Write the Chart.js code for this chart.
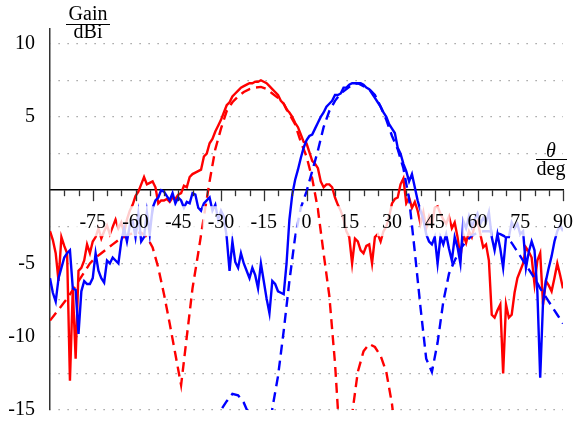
<!DOCTYPE html>
<html>
<head>
<meta charset="utf-8">
<script src="https://cdn.jsdelivr.net/npm/chart.js@4.4.1/dist/chart.umd.min.js"></script>
<style>
	html, body { margin: 0; padding: 0; background: #ffffff; }
	canvas { display: block; }
</style>
</head>
<body>
<canvas id="gain" width="574" height="425"></canvas>
<script>
// Measured angles (1 deg step) and simulated angles (2 deg step).
var measuredAngles = [];
for ( var a = -90; a <= 90; a++ ) {
	measuredAngles.push( a );
}
var simAngles = [];
for ( var b = -90; b <= 90; b += 2 ) {
	simAngles.push( b );
}

// Port 1 (beam towards -15 deg), measured.
var redMeasured = [
	-2.8, -3.4, -4.3, -6.2, -3.2, -3.8, -4.3, -13.0, -6.7, -11.5,
	-5.5, -5.3, -4.8, -3.7, -4.3, -3.5, -3.2, -2.6, -3.3, -2.8,
	-2.4, -3.0, -2.5, -2.0, -2.6, -2.2, -2.9, -2.0, -1.4, -1.0,
	-0.4, -0.1, 0.4, 0.9, 0.4, 0.5, 0.6, 0.2, -0.9, -0.7,
	-0.7, -0.6, -0.8, -0.5, -0.6, -0.3, -0.2, 0.3, 0.2, 0.9,
	1.1, 1.2, 1.3, 1.4, 2.3, 2.5, 3.2, 3.5, 4.0, 4.4,
	4.8, 5.3, 5.8, 6.0, 6.4, 6.6, 6.8, 7.0, 7.1, 7.2,
	7.3, 7.3, 7.4, 7.4, 7.5, 7.4, 7.3, 7.1, 6.9, 6.7,
	6.5, 6.1, 5.9, 5.5, 5.3, 5.0, 4.6, 4.3, 3.8, 3.3,
	3.2, 2.6, 2.0, 1.8, 1.5, 0.6, 0.2, 0.4, 0.4, 0.2,
	-0.5, -1.0, -1.4, -2.0, -2.8, -3.2, -5.0, -3.3, -3.5, -4.1,
	-4.3, -3.8, -3.7, -5.0, -3.2, -3.0, -3.5, -2.8, -2.5, -1.8,
	-0.9, -0.6, -0.5, 0.4, 0.8, -0.9, -0.5, -1.2, -0.8, -1.4,
	-2.3, -1.5, -2.6, -1.8, -2.4, -1.2, -1.1, -1.6, -2.0, -2.3,
	-1.8, -2.6, -2.2, -3.2, -4.6, -3.0, -3.6, -2.8, -3.2, -2.4,
	-2.1, -3.0, -3.9, -3.7, -4.8, -8.5, -8.7, -8.2, -7.8, -12.5,
	-7.8, -8.7, -8.5, -7.0, -6.0, -5.5, -5.0, -3.9, -4.2, -4.6,
	-6.4, -4.8, -4.3, -7.8, -6.2, -6.5, -6.9, -6.0, -5.0, -5.8,
	-6.7
];

// Port 2 (beam towards +17 deg), measured.
var blueMeasured = [
	-6.0, -7.0, -7.6, -6.0, -5.3, -4.6, -4.3, -4.1, -6.7, -6.8,
	-9.8, -6.9, -6.2, -6.4, -6.4, -6.0, -4.3, -5.5, -6.0, -6.3,
	-4.8, -5.0, -4.6, -4.8, -5.0, -3.5, -2.6, -3.5, -2.4, -2.1,
	-3.2, -1.6, -3.5, -3.2, -1.5, -3.0, -1.2, -0.7, -0.5, 0.0,
	-0.1, -0.4, -0.7, -0.2, -0.9, -0.5, -0.7, -1.2, -0.8, -0.9,
	-0.2, -0.3, -1.2, -1.4, -0.9, -0.7, -0.5, -1.4, -1.0, -2.0,
	-1.4, -1.8, -3.2, -5.5, -3.5, -4.9, -5.3, -4.3, -5.0, -5.5,
	-6.0, -5.3, -5.8, -6.7, -5.0, -6.2, -7.4, -8.4, -6.2, -6.4,
	-6.9, -7.0, -7.1, -5.0, -2.0, -0.3, 0.7, 1.4, 2.2, 2.9,
	3.4, 3.7, 3.8, 4.2, 4.6, 5.0, 5.3, 5.7, 5.9, 6.1,
	6.5, 6.5, 6.6, 7.0, 7.0, 7.2, 7.3, 7.3, 7.3, 7.3,
	7.2, 7.0, 6.9, 6.6, 6.3, 6.0, 5.7, 5.3, 5.0, 4.5,
	4.2, 3.9, 2.9, 2.5, 1.8, 1.3, 0.6, 1.1, 0.2, -0.7,
	-1.4, -2.0, -3.0, -3.5, -3.7, -3.2, -5.0, -3.2, -3.7, -3.0,
	-4.0, -4.8, -3.2, -3.9, -5.0, -2.1, -2.6, -1.8, -2.5, -2.0,
	-1.6, -2.3, -1.9, -2.2, -1.5, -3.2, -4.1, -3.0, -4.0, -5.3,
	-3.2, -3.2, -2.2, -2.6, -2.3, -3.0, -2.8, -5.3, -4.2, -3.5,
	-4.1, -6.9, -12.8, -7.6, -6.2, -5.3, -4.5, -3.5, -2.8, -2.4,
	-2.8
];

// Port 1, simulated (null where far below the plotted range).
var redSimulated = [
	-8.9, -8.4, -7.9, -7.4, -6.8, -6.2, -5.6, -5.0, -4.6, -4.3,
	-4.0, -3.7, -3.4, -3.2, -3.0, -2.9, -2.9, -3.2, -3.9, -5.3,
	-7.1, -9.1, -11.2, -13.3, -10.0, -6.7, -4.3, -1.8, 0.6, 2.8,
	4.2, 5.4, 6.0, 6.4, 6.7, 6.9, 7.0, 7.05, 6.9, 6.6,
	6.3, 5.9, 5.2, 4.5, 3.3, 2.3, 0.8, -1.3, -4.3, -7.2,
	-11.8, -18, -22, -15.3, -12.4, -11.0, -10.5, -10.7, -11.3, -12.4,
	-14.6, -18, null, null, null, null, null, null, null, null,
	null, null, null, null, null, null, null, null, null, null,
	null, null, null, null, null, null, null, null, null, null,
	null
];

// Port 2, simulated.
var blueSimulated = [
	null, null, null, null, null, null, null, null, null, null,
	null, null, null, null, null, null, null, null, null, null,
	null, null, null, null, null, null, null, null, null, -17,
	-15.0, -14.4, -13.9, -14.0, -14.5, -15.4, -18, -22, -20, -14.9,
	-12.7, -9.6, -6.2, -3.2, -1.2, -0.1, 1.3, 2.7, 4.3, 5.4,
	6.1, 6.6, 6.9, 7.2, 7.3, 7.1, 6.9, 6.5, 5.7, 4.8,
	3.7, 2.8, 1.5, -0.6, -4.2, -8.0, -11.5, -12.4, -10.4, -7.6,
	-5.7, -4.8, -4.0, -3.5, -3.1, -2.9, -2.8, -2.8, -2.9, -3.0,
	-3.2, -3.6, -4.2, -4.8, -5.4, -6.0, -6.7, -7.3, -7.9, -8.5,
	-9.1
];

// Axis ticks.
var xTickValues = [ -75, -60, -45, -30, -15, 0, 15, 30, 45, 60, 75, 90 ];
var yTickValues = [ -15, -12.5, -10, -7.5, -5, -2.5, 0, 2.5, 5, 7.5, 10 ];
var yTickLabels = [ '-15', '', '-10', '', '-5', '', '', '', '5', '', '10' ];

var serif = 'Liberation Serif';

function toPoints( xs, ys ) {
	return xs.map( function ( x, i ) {
		return { x: x, y: ys[ i ] };
	} );
}

function lineSet( label, xs, ys, color, dashed ) {
	return {
		label: label,
		data: toPoints( xs, ys ),
		borderColor: color,
		backgroundColor: color,
		borderWidth: 2.4,
		borderDash: dashed ? [ 10, 6 ] : [],
		pointRadius: 0,
		tension: 0,
		fill: false,
		spanGaps: false,
	};
}

// Tick marks, translucent boxes behind the x labels, and the unit fractions.
// Runs after the datasets but before the x tick labels (ticks.z: 1) are painted.
var decorations = {
	id: 'decorations',
	afterDatasetsDraw: function ( chart ) {
		var ctx = chart.ctx;
		var xs  = chart.scales.x;
		var y0  = chart.scales.y.getPixelForValue( 0 );

		ctx.save();

		// Label boxes.
		ctx.font = '20px "' + serif + '"';
		ctx.fillStyle = 'rgba(255, 255, 255, 0.8)';
		xTickValues.forEach( function ( v ) {
			var w  = ctx.measureText( String( v ) ).width + 10;
			var cx = xs.getPixelForValue( v );
			ctx.fillRect( cx - w / 2, y0 + 16, w, 30 );
		} );

		ctx.strokeStyle = '#333333';
		ctx.lineWidth = 1.3;
		for ( var v = -85; v <= 90; v += 5 ) {
			var px  = Math.round( xs.getPixelForValue( v ) ) + 0.5;
			var len = ( v % 15 === 0 ) ? 11 : 6;
			ctx.beginPath();
			ctx.moveTo( px, y0 );
			ctx.lineTo( px, y0 + len );
			ctx.stroke();
		}

		ctx.fillStyle = '#000000';
		ctx.textAlign = 'center';
		ctx.textBaseline = 'alphabetic';
		ctx.font = '20px "' + serif + '"';
		ctx.fillText( 'Gain', 88, 20 );
		ctx.fillText( 'dBi', 88, 38 );
		ctx.fillText( 'deg', 551, 175 );
		ctx.font = 'italic 20px "' + serif + '"';
		ctx.fillText( 'θ', 551, 157 );

		ctx.strokeStyle = '#000000';
		ctx.lineWidth = 1;
		ctx.beginPath();
		ctx.moveTo( 66, 24.5 );
		ctx.lineTo( 110, 24.5 );
		ctx.moveTo( 536, 159.5 );
		ctx.lineTo( 567, 159.5 );
		ctx.stroke();
		ctx.restore();
	},
};

var config = {
	type: 'line',
	data: {
		datasets: [
			lineSet( 'Port 2 simulated', simAngles, blueSimulated, '#0000ff', true ),
			lineSet( 'Port 2 measured', measuredAngles, blueMeasured, '#0000ff', false ),
			lineSet( 'Port 1 simulated', simAngles, redSimulated, '#ff0000', true ),
			lineSet( 'Port 1 measured', measuredAngles, redMeasured, '#ff0000', false ),
		],
	},
	plugins: [ decorations ],
	options: {
		responsive: false,
		animation: false,
		devicePixelRatio: 1,
		layout: {
			padding: { left: 0, right: 11, top: 29, bottom: 15 },
		},
		plugins: {
			legend: { display: false },
			tooltip: { enabled: false },
		},
		scales: {
			x: {
				type: 'linear',
				min: -90,
				max: 90,
				position: { y: 0 },
				afterBuildTicks: function ( scale ) {
					scale.ticks = xTickValues.map( function ( v ) {
						return { value: v };
					} );
				},
				afterFit: function ( scale ) {
					scale.paddingLeft = 0;
					scale.paddingRight = 0;
				},
				grid: { display: false, drawTicks: true, tickLength: 11 },
				border: { display: true, color: '#000000', width: 1.5 },
				ticks: {
					z: 1,
					autoSkip: false,
					maxRotation: 0,
					padding: 10,
					color: '#000000',
					font: { family: serif, size: 20 },
					callback: function ( value ) {
						return String( value );
					},
				},
			},
			y: {
				type: 'linear',
				min: -15,
				max: 11,
				position: 'left',
				afterBuildTicks: function ( scale ) {
					scale.ticks = yTickValues.map( function ( v ) {
						return { value: v };
					} );
				},
				afterFit: function ( scale ) {
					scale.width = 50;
					scale.paddingTop = 0;
					scale.paddingBottom = 0;
				},
				grid: {
					drawTicks: false,
					lineWidth: 1.2,
					color: function ( context ) {
						return ( context.tick && context.tick.value === 0 ) ? 'rgba(0,0,0,0)' : '#8c8c8c';
					},
				},
				border: { display: true, color: '#333333', width: 1.5, dash: [ 1.2, 7.8 ], dashOffset: 1 },
				ticks: {
					padding: 15,
					color: '#000000',
					font: { family: serif, size: 20 },
					callback: function ( value, index ) {
						return yTickLabels[ index ];
					},
				},
			},
		},
	},
};

window.gainChart = new Chart( document.getElementById( 'gain' ), config );
</script>
</body>
</html>
